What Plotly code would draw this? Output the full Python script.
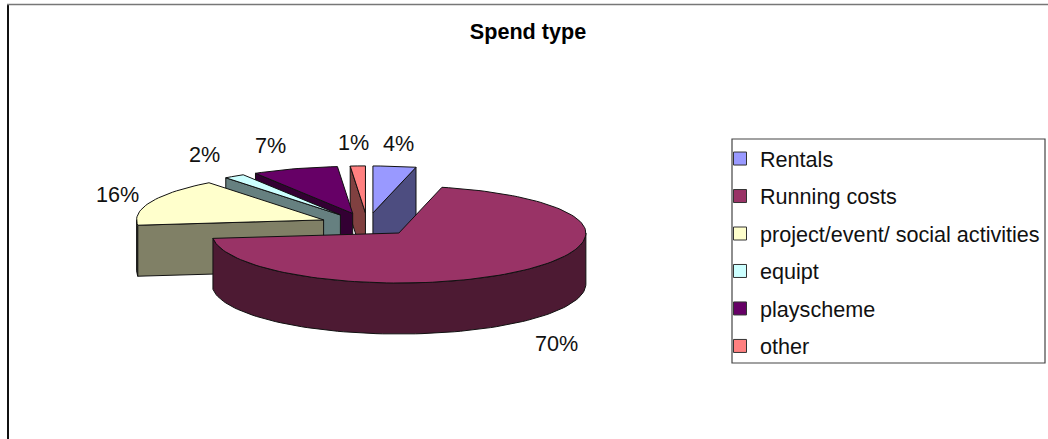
import math
import plotly.graph_objects as go

categories = ["Rentals", "Running costs", "project/event/ social activities", "equipt", "playscheme", "other"]
values = [3.7, 69.6, 16.2, 1.8, 7.4, 1.3]

top_colors = ["#9999FF", "#993366", "#FFFFCC", "#CCFFFF", "#660066", "#FF8080"]
side_colors = ["#4D4D80", "#4D1A33", "#808066", "#668080", "#330033", "#804040"]
label_nudge = [(4, -23), (34, 22), (-34, -7), (-30, -22), (-24, -23), (-4, -23)]
draw_order = [0, 5, 4, 3, 2, 1]

W, H = 1048, 439
CX, CY = 367.4, 224.4      # pie centre before explosion
EX, EY = 47.6, 11.5        # explosion distance, projected
RX, RY_BACK, RY_FRONT = 187, 47, 50
DEPTH = 51
TEXT_SIZE = 21.6


def rim(apex, deg):
    t = math.radians(deg)
    c = math.cos(t)
    return (apex[0] + RX * math.sin(t), apex[1] - (RY_BACK if c > 0 else RY_FRONT) * c)


def arc(apex, a, b, step=2.0):
    n = max(1, int(abs(b - a) / step))
    return [rim(apex, a + (b - a) * i / n) for i in range(n + 1)]


def poly(pts, fill, name):
    xs = [p[0] for p in pts] + [pts[0][0]]
    ys = [p[1] for p in pts] + [pts[0][1]]
    return go.Scatter(x=xs, y=ys, mode="lines", fill="toself", fillcolor=fill,
                      line=dict(color="#111111", width=1), name=name,
                      showlegend=False, hoverinfo="skip")


total = sum(values)
bounds = []
acc = 0.0
for v in values:
    a = acc / total * 360
    acc += v
    bounds.append((a, acc / total * 360))

apexes = []
for a, b in bounds:
    m = math.radians((a + b) / 2)
    apexes.append((CX + EX * math.sin(m), CY - EY * math.cos(m)))

traces = []
for i in draw_order:
    a, b = bounds[i]
    ap = apexes[i]
    name = categories[i]
    down = lambda p: (p[0], p[1] + DEPTH)
    # cut faces that turn toward the viewer
    if math.sin(math.radians(a)) < -1e-6:
        r = rim(ap, a)
        traces.append(poly([ap, r, down(r), down(ap)], side_colors[i], name))
    if math.sin(math.radians(b)) > 1e-6:
        r = rim(ap, b)
        traces.append(poly([ap, r, down(r), down(ap)], side_colors[i], name))
    # outer wall, front half only
    lo, hi = max(a, 90), min(b, 270)
    if hi > lo:
        top = arc(ap, lo, hi)
        traces.append(poly(top + [down(p) for p in reversed(top)], side_colors[i], name))
    # top face
    traces.append(poly([ap] + arc(ap, a, b), top_colors[i], name))

# legend entries
for i, name in enumerate(categories):
    traces.append(go.Scatter(x=[None], y=[None], mode="markers", name=name, legendgroup=name,
                             marker=dict(symbol="square", size=13, color=top_colors[i],
                                         line=dict(color="#333333", width=1))))

fig = go.Figure(traces)

annotations = []
for i, v in enumerate(values):
    a, b = bounds[i]
    m = (a + b) / 2
    p = rim(apexes[i], m)
    y = p[1] + (DEPTH if math.cos(math.radians(m)) < 0 else 0)
    annotations.append(dict(x=p[0] + label_nudge[i][0], y=y + label_nudge[i][1],
                            xref="x", yref="y", text=f"{round(v)}%", showarrow=False,
                            font=dict(family="Liberation Sans", size=TEXT_SIZE, color="#111111")))

fig.update_layout(
    width=W, height=H, margin=dict(l=0, r=0, t=0, b=0),
    paper_bgcolor="white", plot_bgcolor="white",
    font=dict(family="Liberation Sans", size=TEXT_SIZE, color="#111111"),
    title=dict(text="<b>Spend type</b>", x=528 / W, xanchor="center", y=1 - 31 / H, yanchor="middle",
               font=dict(family="Liberation Sans", size=TEXT_SIZE, color="black")),
    xaxis=dict(visible=False, range=[0, W], fixedrange=True),
    yaxis=dict(visible=False, range=[H, 0], fixedrange=True),
    legend=dict(x=720 / W, y=1 - 138 / H, xanchor="left", yanchor="top", tracegroupgap=6.4,
                bgcolor="rgba(0,0,0,0)", font=dict(family="Liberation Sans", size=TEXT_SIZE, color="#111111"),
                itemclick=False, itemdoubleclick=False),
    annotations=annotations,
    shapes=[
        dict(type="line", x0=8, x1=8, y0=4, y1=H, line=dict(color="#111111", width=2), layer="below"),
        dict(type="line", x0=7, x1=W, y0=4.5, y1=4.5, line=dict(color="#777777", width=1.5), layer="below"),
        dict(type="rect", x0=732, x1=1045, y0=139, y1=363, line=dict(color="#444444", width=1.2), layer="below"),
    ],
)

fig.write_html("out.html", config=dict(displayModeBar=False),
               post_script="document.body.style.margin='0';document.body.style.overflow='hidden';")
